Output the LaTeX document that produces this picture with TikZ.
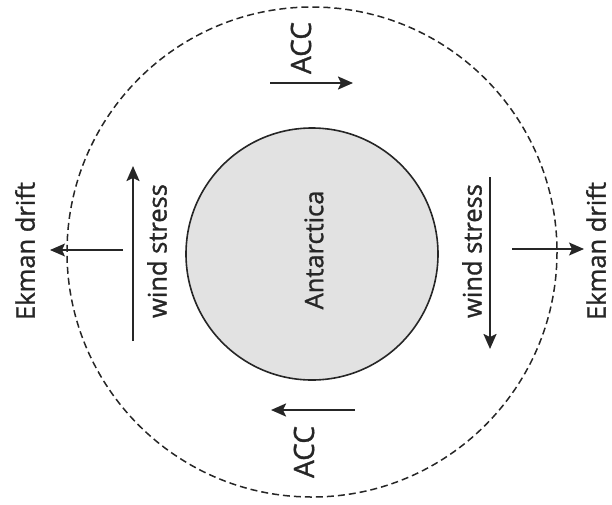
\documentclass[tikz,border=0pt]{standalone}
\usepackage{fontspec}
\setmainfont{Open Sans}[FakeBold=1.2]
\usetikzlibrary{arrows.meta}
\definecolor{ink}{HTML}{262626}
\definecolor{land}{HTML}{E2E2E2}
\tikzset{
  lbl/.style={rotate=90, inner sep=0pt, text=ink, font=\fontsize{25.5}{30}\selectfont},
  acclbl/.style={lbl, font=\fontsize{28}{32}\selectfont},
  flow/.style={draw=ink, line width=2.2pt, -{Stealth[length=15pt,width=13pt,inset=3pt]}},
  drift/.style={draw=ink, line width=1.3pt, -{Stealth[length=15pt,width=13pt,inset=3pt]}},
}
\begin{document}
\begin{tikzpicture}[x=1pt,y=-1pt]
\useasboundingbox (0,0) rectangle (612,504);
% outer dashed circle
\draw[ink, line width=1.5pt, dash pattern=on 7pt off 4pt] (312,252) circle[radius=245];
% Antarctica
\node[circle, draw=ink, line width=1.6pt, fill=land, minimum size=252pt, inner sep=0pt] (ant) at (312,254) {};
\node[lbl] (antl) at (314,250) {Antarctica};
% labels
\node[lbl] (ekl) at (25,251) {Ekman drift};
\node[lbl] (wsl) at (157,251) {wind stress};
\node[lbl] (wsr) at (472,251) {wind stress};
\node[lbl] (ekr) at (596,251) {Ekman drift};
\node[acclbl] (acct) at (301,48) {ACC};
\node[acclbl] (accb) at (304,452) {ACC};
% arrow end points
\coordinate (at1) at (270,83);  \coordinate (at2) at (353,83);
\coordinate (ab1) at (355,410); \coordinate (ab2) at (271,410);
\coordinate (wl1) at (133,341); \coordinate (wl2) at (133,166);
\coordinate (wr1) at (490,177); \coordinate (wr2) at (490,349);
\coordinate (el1) at (123,250); \coordinate (el2) at (50,250);
\coordinate (er1) at (512,249); \coordinate (er2) at (584,249);
\draw[flow] (at1) -- (at2);
\draw[flow] (ab1) -- (ab2);
\draw[flow] (wl1) -- (wl2);
\draw[flow] (wr1) -- (wr2);
\draw[drift] (el1) -- (el2);
\draw[drift] (er1) -- (er2);
\end{tikzpicture}
\end{document}
